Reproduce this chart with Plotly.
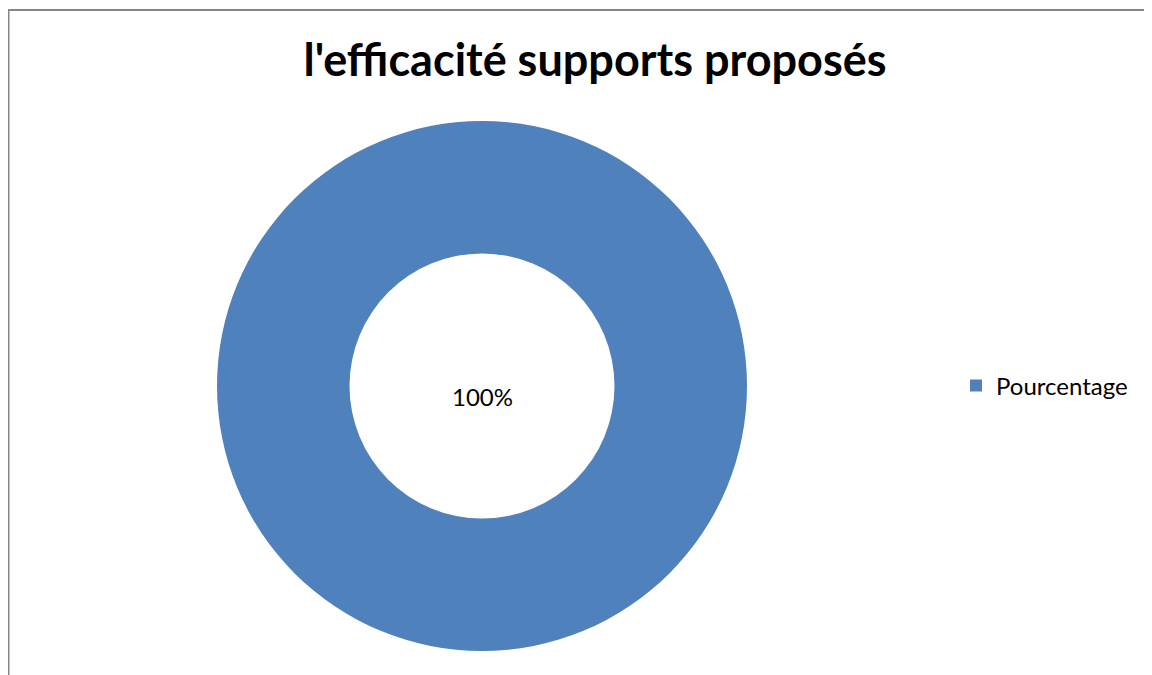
import plotly.graph_objects as go

labels = ["Pourcentage"]
values = [100]
title_text = "l'efficacité supports proposés"

W, H = 1152, 675
OFF = 8  # page body margin offset

def px(x):
    return (x - OFF) / W

def py(y):
    return 1 - (y - OFF) / H

pct_text = f"{values[0] / sum(values):.0%}"

fig = go.Figure()
fig.add_trace(go.Pie(
    labels=labels,
    values=values,
    hole=0.5,
    sort=False,
    marker=dict(colors=["#4F81BD"], line=dict(width=0)),
    textinfo="none",
    showlegend=True,
    domain=dict(x=[px(217), px(747)], y=[py(651), py(121)]),
))
fig.update_layout(
    width=W, height=H,
    margin=dict(l=0, r=0, t=0, b=0),
    paper_bgcolor="white",
    plot_bgcolor="white",
    title=dict(text="<b>" + title_text + "</b>", x=px(595), xanchor="center",
               y=py(60), yanchor="middle",
               font=dict(size=45, family="Lato", color="black")),
    legend=dict(x=px(956), y=py(386), xanchor="left", yanchor="middle",
                font=dict(size=24, family="Lato", color="black"),
                itemwidth=30),
    annotations=[dict(text=pct_text, x=px(482), y=py(396), xref="paper", yref="paper",
                      showarrow=False, xanchor="center", yanchor="middle",
                      font=dict(size=24, family="Lato", color="black"))],
    shapes=[dict(type="line", xref="paper", yref="paper",
                 x0=0.5 / W, x1=0.5 / W, y0=-0.1, y1=py(9),
                 line=dict(color="#868686", width=2)),
            dict(type="line", xref="paper", yref="paper",
                 x0=0, x1=1.1, y0=py(10), y1=py(10),
                 line=dict(color="#868686", width=2))],
)
fig.write_html("out.html")
